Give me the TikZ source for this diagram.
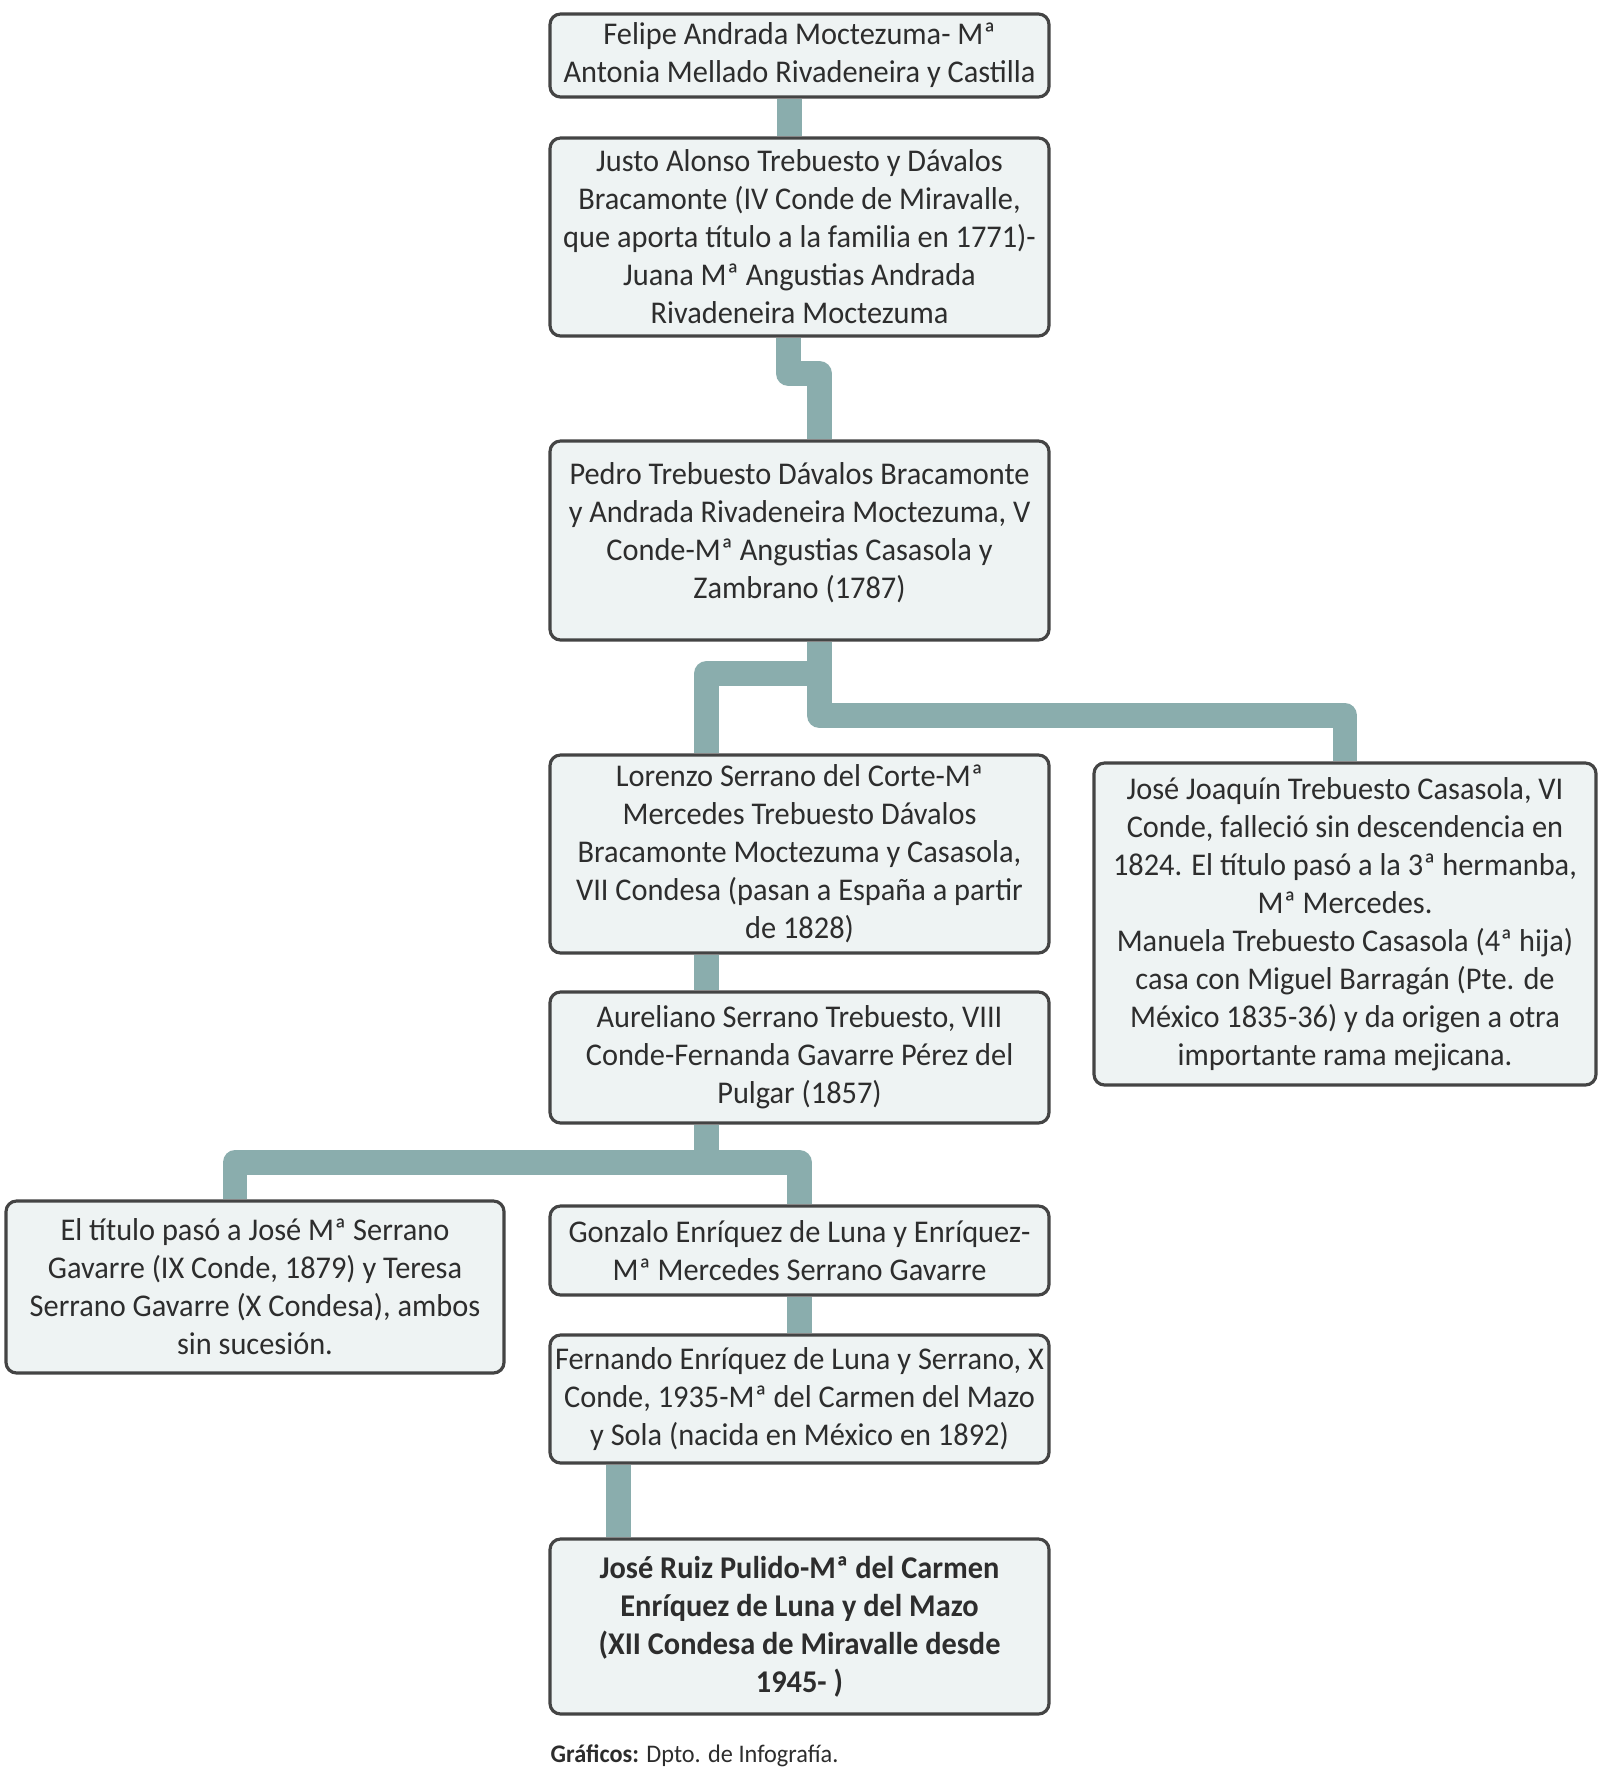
\documentclass[tikz,border=0pt]{standalone}
\usepackage{fontspec}
\setmainfont{Carlito}[FakeStretch=0.96]
\usepackage{xcolor}
\definecolor{boxfill}{RGB}{238,243,243}
\definecolor{boxline}{RGB}{68,68,68}
\definecolor{textgray}{RGB}{45,45,45}
\definecolor{linkteal}{RGB}{138,173,173}

\begin{document}
\begin{tikzpicture}[
  box/.style={draw=boxline, fill=boxfill, line width=0.9pt, rounded corners=3pt, minimum width=4.99cm, align=center, text=textgray, inner sep=0pt, font=\fontsize{9}{10.8}\selectfont},
  link/.style={draw=linkteal, line width=7.1pt, line join=round}
]
\useasboundingbox (0.000000, 0.000000) rectangle (16.000000, -17.720000);
\node[box, minimum height=0.83cm] (felipe) at (7.995000, -0.555000) {Felipe Andrada Moctezuma- Mª\\Antonia Mellado Rivadeneira y Castilla};
\node[box, minimum height=1.98cm] (justo) at (7.995000, -2.370000) {Justo Alonso Trebuesto y Dávalos\\Bracamonte (IV Conde de Miravalle,\\que aporta título a la familia en 1771)-\\Juana Mª Angustias Andrada\\Rivadeneira Moctezuma};
\node[box, minimum height=1.99cm] (pedro) at (7.995000, -5.405000) {Pedro Trebuesto Dávalos Bracamonte\\y Andrada Rivadeneira Moctezuma, V\\Conde-Mª Angustias Casasola y\\Zambrano (1787)\\[-5pt]};
\node[box, minimum height=1.98cm] (lorenzo) at (7.995000, -8.540000) {Lorenzo Serrano del Corte-Mª\\Mercedes Trebuesto Dávalos\\Bracamonte Moctezuma y Casasola,\\VII Condesa (pasan a España a partir\\de 1828)};
\node[box, minimum width=5.02cm, minimum height=3.22cm] (joaquin) at (13.450000, -9.240000) {José Joaquín Trebuesto Casasola, VI\\Conde, falleció sin descendencia en\\1824. El título pasó a la 3ª hermanba,\\Mª Mercedes.\\Manuela Trebuesto Casasola (4ª hija)\\casa con Miguel Barragán (Pte. de\\México 1835-36) y da origen a otra\\importante rama mejicana.};
\node[box, minimum height=1.31cm] (aureliano) at (7.995000, -10.575000) {Aureliano Serrano Trebuesto, VIII\\Conde-Fernanda Gavarre Pérez del\\Pulgar (1857)};
\node[box, minimum width=4.98cm, minimum height=1.72cm] (titulo) at (2.550000, -12.870000) {El título pasó a José Mª Serrano\\Gavarre (IX Conde, 1879) y Teresa\\Serrano Gavarre (X Condesa), ambos\\sin sucesión.};
\node[box, minimum height=0.89cm] (gonzalo) at (7.995000, -12.505000) {Gonzalo Enríquez de Luna y Enríquez-\\Mª Mercedes Serrano Gavarre};
\node[box, minimum height=1.28cm] (fernando) at (7.995000, -13.990000) {Fernando Enríquez de Luna y Serrano, X\\Conde, 1935-Mª del Carmen del Mazo\\y Sola (nacida en México en 1892)};
\node[box, minimum height=1.75cm, font=\fontsize{9}{10.8}\selectfont\bfseries] (ruiz) at (7.995000, -16.265000) {José Ruiz Pulido-Mª del Carmen\\Enríquez de Luna y del Mazo\\(XII Condesa de Miravalle desde\\1945- )};
\node[anchor=west, inner sep=0pt, text=textgray, font=\fontsize{7.2}{8}\selectfont] (credito) at (5.500000, -17.560000) {\textbf{Gráficos:} Dpto. de Infografía.};
\draw[link] ([xshift=-0.1cm]felipe.south) -- ([xshift=-0.1cm]justo.north);
\draw[link] ([xshift=-0.11cm]justo.south) -- ++(0,-0.36) -| ([xshift=0.2cm]pedro.north);
\draw[link] ([xshift=0.2cm]pedro.south) -- ++(0,-0.32) -| ([xshift=-0.93cm]lorenzo.north);
\draw[link] ([xshift=0.2cm]pedro.south) -- ++(0,-0.74) -| (joaquin.north);
\draw[link] ([xshift=-0.93cm]lorenzo.south) -- ([xshift=-0.93cm]aureliano.north);
\draw[link] ([xshift=-0.93cm]aureliano.south) -- ++(0,-0.38) -| ([xshift=-0.2cm]titulo.north);
\draw[link] ([xshift=-0.93cm]aureliano.south) -- ++(0,-0.38) -| (gonzalo.north);
\draw[link] (gonzalo.south) -- (fernando.north);
\draw[link] ([xshift=-1.81cm]fernando.south) -- ([xshift=-1.81cm]ruiz.north);
\end{tikzpicture}
\end{document}
